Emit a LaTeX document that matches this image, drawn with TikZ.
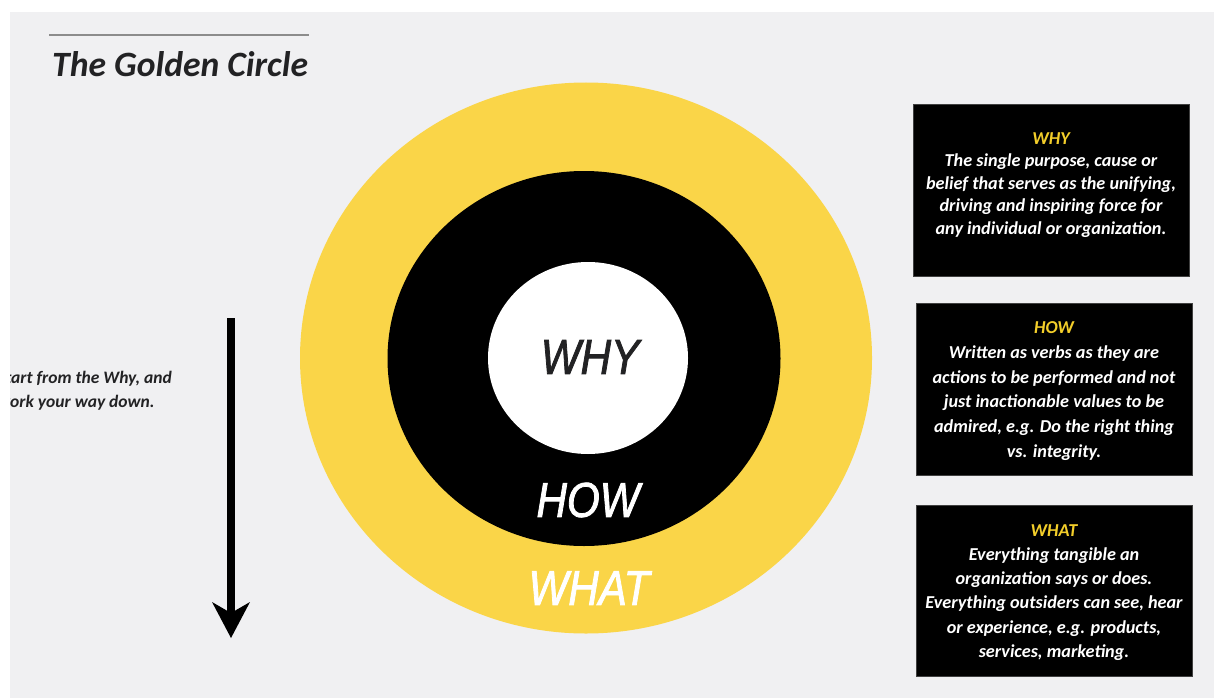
\documentclass[tikz,border=0pt]{standalone}
\usepackage{fontspec}
\setmainfont{Carlito}
\newfontfamily\ringfont[FakeStretch=0.86,FakeBold=1.6]{Liberation Sans}
\usetikzlibrary{shapes.geometric,arrows.meta}
\definecolor{slidebg}{RGB}{240,240,242}
\definecolor{gold}{RGB}{250,213,72}
\definecolor{goldlabel}{RGB}{243,206,42}
\definecolor{inktext}{RGB}{34,34,36}
\begin{document}
\begin{tikzpicture}[x=1pt,y=-1pt,
  ring/.style={ellipse,inner sep=0pt,draw=none},
  ringlabel/.style={font=\ringfont\itshape\fontsize{49}{49}\selectfont,inner sep=0pt},
  infobox/.style={rectangle,fill=black,draw=black!75,line width=0.6pt,
    minimum width=276pt,minimum height=172pt,inner sep=0pt},
  infotext/.style={text=white,align=center,inner sep=0pt,
    font=\bfseries\itshape\fontsize{18.2}{#1}\selectfont},
  boxhead/.style={text=goldlabel}]
% page and slide background
\useasboundingbox (0,0) rectangle (1214,698);
\fill[white] (0,0) rectangle (1214,698);
\fill[slidebg] (10,12) rectangle (1214,698);

% title with rule above
\coordinate (ruleL) at (49,35);
\coordinate (ruleR) at (309,35);
\draw[black!45,line width=1.5pt] (ruleL) -- (ruleR);
\node[anchor=base west,inner sep=0pt,text=inktext,
  font=\bfseries\itshape\fontsize{35.6}{36}\selectfont] (title) at (52,77) {The Golden Circle};

% the three rings
\node[ring,fill=gold,minimum width=572pt,minimum height=551pt] (what) at (586,358) {};
\node[ring,fill=black,minimum width=393pt,minimum height=375pt] (how) at (584,358.5) {};
\node[ring,fill=white,minimum width=200pt,minimum height=192pt] (why) at (588,358) {};
\node[ringlabel,text=inktext] (whylbl) at (590,357) {WHY};
\node[ringlabel,text=white] (howlbl) at (588,500) {HOW};
\node[ringlabel,text=white] (whatlbl) at (589,588) {WHAT};

% reading direction note (runs off the slide edge) and arrow
\begin{scope}
\clip (10,12) rectangle (1214,698);
\node[anchor=west,align=left,inner sep=0pt,text=inktext,
  font=\bfseries\itshape\fontsize{17.5}{24}\selectfont] (note) at (-3,391)
  {Start from the Why, and\\work your way down.};
\end{scope}
\coordinate (arrowTop) at (231,318);
\coordinate (arrowTip) at (231,638);
\draw[line width=8pt,-{Stealth[length=36pt,width=38pt,inset=11pt,line width=0pt]}]
  (arrowTop) -- (arrowTip);

% explanation boxes
\node[infobox] (boxwhy) at (1051,190) {};
\node[infotext=22.5] (txtwhy) at (1051,185) {\textcolor{goldlabel}{WHY}\\The single purpose, cause or\\belief that serves as the unifying,\\driving and inspiring force for\\any individual or organization.};
\node[infobox] (boxhow) at (1054,389) {};
\node[infotext=24.8] (txthow) at (1054,391) {\textcolor{goldlabel}{HOW}\\Written as verbs as they are\\actions to be performed and not\\just inactionable values to be\\admired, e.g. Do the right thing\\vs. integrity.};
\node[infobox,minimum height=171pt] (boxwhat) at (1054,590.5) {};
\node[infotext=24.2] (txtwhat) at (1054,592.5) {\textcolor{goldlabel}{WHAT}\\Everything tangible an\\organization says or does.\\Everything outsiders can see, hear\\or experience, e.g. products,\\services, marketing.};
\end{tikzpicture}
\end{document}
